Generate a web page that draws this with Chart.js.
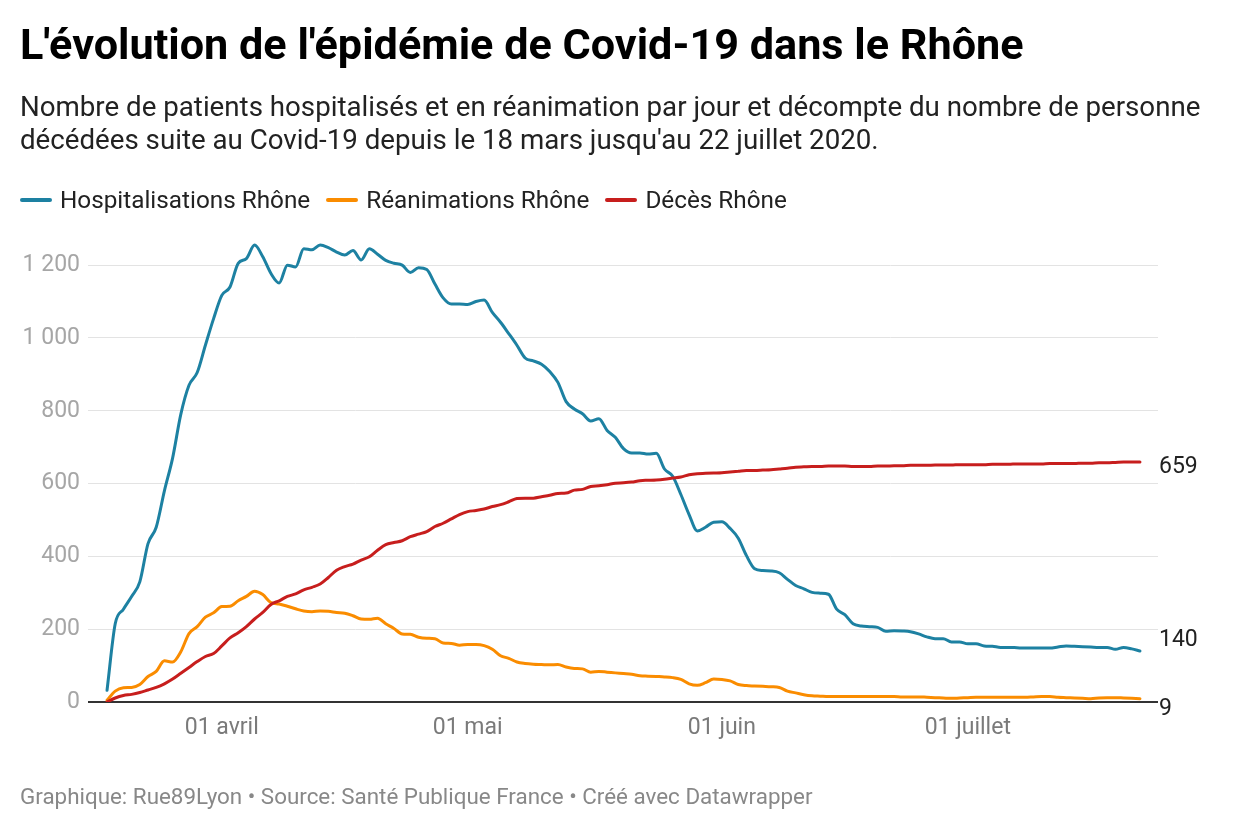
<!DOCTYPE html>
<html lang="fr">
<head>
<meta charset="utf-8">
<script src="https://cdn.jsdelivr.net/npm/chart.js@4.4.1/dist/chart.umd.min.js"></script>
<style>
  html, body { margin:0; padding:0; background:#fff; width:1240px; height:840px; overflow:hidden; font-family: Roboto, "Noto Sans", sans-serif; }
  #title { position:absolute; left:20px; top:24px; font-size:43.2px; line-height:42px; font-weight:700; color:#000; white-space:nowrap; }
  #subtitle { position:absolute; left:20px; top:90px; font-size:27.7px; line-height:33px; color:#222; width:1215px; }
  #legend { position:absolute; left:20px; top:188px; font-size:24.3px; line-height:24px; color:#222; display:flex; white-space:nowrap; }
  .item { display:flex; align-items:center; margin-right:16px; }
  .sw { display:inline-block; width:32px; height:4px; border-radius:2px; margin-right:8px; }
  #footer { position:absolute; left:20px; top:785px; font-size:22.4px; line-height:22px; color:#888; white-space:nowrap; }
  #wrap { position:absolute; left:0; top:0; width:1240px; height:840px; }
</style>
</head>
<body>
<div id="wrap"><canvas id="c" width="1240" height="840"></canvas></div>
<div id="title">L'évolution de l'épidémie de Covid-19 dans le Rhône</div>
<div id="subtitle">Nombre de patients hospitalisés et en réanimation par jour et décompte du nombre de personne décédées suite au Covid-19 depuis le 18 mars jusqu'au 22 juillet 2020.</div>
<div id="legend"></div>
<div id="footer">Graphique: Rue89Lyon • Source: Santé Publique France • Créé avec Datawrapper</div>
<script>
const dates = [
 '18/03','19/03','20/03','21/03','22/03','23/03','24/03','25/03','26/03','27/03','28/03','29/03','30/03','31/03',
 '01/04','02/04','03/04','04/04','05/04','06/04','07/04','08/04','09/04','10/04','11/04','12/04','13/04','14/04','15/04','16/04','17/04','18/04','19/04','20/04','21/04','22/04','23/04','24/04','25/04','26/04','27/04','28/04','29/04','30/04',
 '01/05','02/05','03/05','04/05','05/05','06/05','07/05','08/05','09/05','10/05','11/05','12/05','13/05','14/05','15/05','16/05','17/05','18/05','19/05','20/05','21/05','22/05','23/05','24/05','25/05','26/05','27/05','28/05','29/05','30/05','31/05',
 '01/06','02/06','03/06','04/06','05/06','06/06','07/06','08/06','09/06','10/06','11/06','12/06','13/06','14/06','15/06','16/06','17/06','18/06','19/06','20/06','21/06','22/06','23/06','24/06','25/06','26/06','27/06','28/06','29/06','30/06',
 '01/07','02/07','03/07','04/07','05/07','06/07','07/07','08/07','09/07','10/07','11/07','12/07','13/07','14/07','15/07','16/07','17/07','18/07','19/07','20/07','21/07','22/07'
];

const hospitalisations = [
 32,215,255,290,330,435,480,580,670,790,870,905,980,1053,
 1117,1140,1205,1218,1255,1223,1177,1151,1200,1195,1245,1242,1255,1248,1236,1228,1240,1214,1245,1230,1213,1205,1200,1180,1193,1188,1148,1110,1093,1093,
 1092,1100,1104,1070,1043,1012,980,945,937,928,908,878,825,805,792,772,778,746,727,696,684,684,681,683,640,620,570,515,470,480,494,
 495,477,450,402,366,361,360,355,337,320,311,301,299,296,255,240,215,209,207,205,194,196,195,193,187,179,174,174,165,165,
 160,160,154,153,150,150,149,148,148,148,148,151,154,153,152,151,150,150,145,150,146,140
];

const reanimations = [
 5,30,39,40,48,70,84,113,110,138,188,207,233,245,
 262,263,278,290,304,295,273,269,263,256,250,248,250,249,246,244,237,228,227,230,215,202,187,186,178,175,174,162,161,156,
 158,158,155,145,127,120,110,106,104,103,102,103,96,92,91,82,84,82,80,78,76,72,71,70,69,67,62,50,46,53,63,
 62,58,48,45,44,43,42,40,30,25,20,17,16,15,15,15,15,15,15,15,15,15,14,14,14,13,12,11,10,11,
 12,13,13,13,13,13,13,13,14,15,15,13,12,11,10,9,11,12,12,11,10,9
];

const deces = [
 0,11,18,21,26,33,40,50,63,79,95,111,125,133,
 154,176,190,207,228,246,268,278,290,297,308,315,324,342,362,372,379,390,399,417,432,438,443,454,461,468,482,491,503,515,
 523,526,530,537,542,550,559,560,560,564,568,573,574,582,584,592,594,597,601,602,604,608,609,610,612,615,618,624,627,628,629,
 630,632,634,636,636,637,638,640,642,645,646,647,647,648,648,648,647,647,647,648,648,649,649,650,650,650,651,651,651,652,
 652,652,652,653,653,653,654,654,654,654,655,655,655,655,656,656,657,657,658,659,659,659
];

const seriesNames = ['Hospitalisations Rhône', 'Réanimations Rhône', 'Décès Rhône'];
const seriesColors = ['#1d81a2', '#fa8c00', '#c71e1d'];
const tickDates = ['01/04', '01/05', '01/06', '01/07'];
const tickLabels = ['01 avril', '01 mai', '01 juin', '01 juillet'];
const yTicks = [0, 200, 400, 600, 800, 1000, 1200];

// HTML legend
const lg = document.getElementById('legend');
seriesNames.forEach((n, i) => {
  const it = document.createElement('div'); it.className = 'item';
  const sw = document.createElement('span'); sw.className = 'sw'; sw.style.background = seriesColors[i];
  const tx = document.createElement('span'); tx.textContent = n;
  it.appendChild(sw); it.appendChild(tx); lg.appendChild(it);
});

const seriesValues = [hospitalisations, reanimations, deces];
const toPoints = arr => arr.map((v, i) => ({ x: i, y: v }));
const tickIdx = tickDates.map(d => dates.indexOf(d));
const fmt = v => String(v).replace(/\B(?=(\d{3})+(?!\d))/g, ' ');

const endLabels = {
  id: 'endLabels',
  afterDatasetsDraw(chart, args, opts) {
    const ctx = chart.ctx;
    const y = chart.scales.y;
    ctx.save();
    ctx.font = '23px Roboto';
    ctx.fillStyle = '#222';
    ctx.textAlign = 'left';
    ctx.textBaseline = 'alphabetic';
    seriesValues.forEach((arr, i) => {
      const v = arr[arr.length - 1];
      ctx.fillText(fmt(v), chart.chartArea.right + 1, y.getPixelForValue(v) + opts.shift[i]);
    });
    ctx.restore();
  }
};

new Chart(document.getElementById('c'), {
  type: 'line',
  data: {
    datasets: seriesValues.map((arr, i) => ({
      label: seriesNames[i],
      data: toPoints(arr),
      borderColor: seriesColors[i],
      backgroundColor: seriesColors[i],
      borderWidth: 3,
      pointRadius: 0,
      tension: 0.35,
      cubicInterpolationMode: 'monotone',
      fill: false,
      order: 2 - i,
      borderCapStyle: 'round',
      borderJoinStyle: 'round'
    }))
  },
  options: {
    responsive: false,
    animation: false,
    layout: { padding: { top: 232, left: 0, right: 82, bottom: 98 } },
    plugins: {
      legend: { display: false },
      tooltip: { enabled: false },
      endLabels: { shift: [-5, 16, 11] }
    },
    scales: {
      x: {
        type: 'linear',
        min: -2.32,
        max: 128.2,
        grid: { display: false, drawTicks: false },
        border: { display: false },
        afterBuildTicks: s => { s.ticks = tickIdx.map(v => ({ value: v })); },
        afterFit: s => { s.height = 40; },
        ticks: {
          autoSkip: false, maxRotation: 0, padding: 12,
          color: '#7a7a7a', font: { family: 'Roboto', size: 23 },
          callback: (v, i) => tickLabels[i]
        }
      },
      y: {
        min: 0,
        max: 1291,
        grid: {
          drawTicks: false,
          color: c => c.tick && c.tick.value === 0 ? '#333333' : '#e3e3e3',
          lineWidth: c => c.tick && c.tick.value === 0 ? 2 : 1
        },
        border: { display: false },
        afterBuildTicks: s => { s.ticks = yTicks.map(v => ({ value: v })); },
        afterFit: s => { s.width = 88; },
        ticks: {
          padding: 8, color: '#a6a6a6', font: { family: 'Roboto', size: 23 },
          callback: v => fmt(v)
        }
      }
    }
  },
  plugins: [endLabels]
});
</script>
</body>
</html>
